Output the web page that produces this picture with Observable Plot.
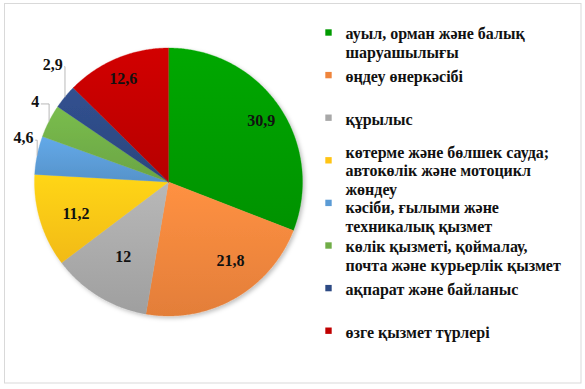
<!DOCTYPE html>
<html>
<head>
<meta charset="utf-8">
<script src="https://cdn.jsdelivr.net/npm/d3@7"></script>
<script src="https://cdn.jsdelivr.net/npm/@observablehq/plot@0.6"></script>
<style>
  html, body { margin: 0; padding: 0; background: #fff; }
  svg { display: block; }
</style>
</head>
<body>
<div id="chart"></div>
<script>
// ---- data ----
const categories = [
  "ауыл, орман және балық\nшаруашылығы",
  "өңдеу өнеркәсібі",
  "құрылыс",
  "көтерме және бөлшек сауда;\nавтокөлік және мотоцикл\nжөндеу",
  "кәсіби, ғылыми және\nтехникалық қызмет",
  "көлік қызметі, қоймалау,\nпочта және курьерлік қызмет",
  "ақпарат және байланыс",
  "өзге қызмет түрлері"
];
const values = [30.9, 21.8, 12, 11.2, 4.6, 4, 2.9, 12.6];
const valueLabels = ["30,9", "21,8", "12", "11,2", "4,6", "4", "2,9", "12,6"];
const colors = ["#009A00", "#EF853C", "#A8A8A8", "#FFC414", "#5B9BD5", "#70AD47", "#2D4A84", "#C00000"];

// ---- layout (label placement, like the "best fit" of the original) ----
const labelRadius = [0.83, 0.75, 0.65, 0.73, 1.13, 1.16, 1.23, 0.84]; // fraction of pie radius
const labelAngleShift = [1, -8.5, 0, -2, 5.3, 4, 6, -1];               // degrees
const W = 585, H = 389;
const cx = 168, cy = 181.5, R = 134;
const font = "Liberation Serif";
const total = d3.sum(values);
const toRad = Math.PI / 180;

const slices = [];
const labels = [];
const leaders = [];
let acc = 0;
values.forEach((v, i) => {
  const a0 = acc / total * 360;
  acc += v;
  const a1 = acc / total * 360;
  const n = Math.max(2, Math.ceil((a1 - a0) / 0.5));
  slices.push({cat: categories[i], x: cx, y: cy, k: 0});
  for (let j = 0; j <= n; j++) {
    const a = (a0 + (a1 - a0) * j / n) * toRad;
    slices.push({cat: categories[i], x: cx + R * Math.sin(a), y: cy - R * Math.cos(a), k: j + 1});
  }
  const mid = (a0 + a1) / 2;
  const la = (mid + labelAngleShift[i]) * toRad;
  const lr = R * labelRadius[i];
  const lx = cx + lr * Math.sin(la), ly = cy - lr * Math.cos(la);
  labels.push({text: valueLabels[i], x: lx, y: ly});
  if (labelRadius[i] > 1) {
    const t = valueLabels[i];
    const halfW = (t.replace(/,/g, "").length * 8 + (t.includes(",") ? 4 : 0)) / 2;
    const ex = cx + R * Math.sin(mid * toRad), ey = cy - R * Math.cos(mid * toRad);
    leaders.push({id: i, x: lx + halfW + 2, y: ly + 2});
    leaders.push({id: i, x: ex, y: ly + 2});
    leaders.push({id: i, x: ex, y: ey});
  }
});

// legend: evenly spaced swatches, text lines flowed so blocks never collide
const legendX = 328, legendY0 = 32, legendStep = 42.6, lineH = 18.6, minGap = 18;
const legendSwatches = categories.map((c, i) => ({cat: c, color: colors[i], y: legendY0 + i * legendStep}));
const legendLines = [];
let prevLast = -Infinity;
legendSwatches.forEach(s => {
  const parts = s.cat.split("\n");
  const center = s.y + (parts.length > 1 ? 11 : 2);
  let first = center - (parts.length - 1) * lineH / 2;
  first = Math.max(first, prevLast + minGap);
  parts.forEach((p, j) => legendLines.push({text: p, y: first + j * lineH}));
  prevLast = first + (parts.length - 1) * lineH;
});

const gradIds = categories.map((c, i) => `url(#slice-grad-${i})`);

const chart = Plot.plot({
  width: W,
  height: H,
  margin: 0,
  x: {domain: [0, W], range: [0, W], axis: null},
  y: {domain: [0, H], range: [0, H], axis: null},
  color: {type: "ordinal", domain: categories, range: gradIds},
  style: {background: "#fff", fontFamily: font},
  marks: [
    Plot.frame({stroke: "#d9d9d9", insetLeft: 4, insetTop: 3, insetRight: 4.5, insetBottom: 6.5}),
    Plot.line(slices, {x: "x", y: "y", z: "cat", fill: "cat", stroke: "cat", strokeWidth: 0.3, curve: "linear-closed", sort: "k"}),
    Plot.line(leaders, {x: "x", y: "y", z: "id", stroke: "#a6a6a6", strokeWidth: 0.8}),
    Plot.text(labels, {x: "x", y: "y", text: "text", fontFamily: font, fontSize: 16, fontWeight: "bold", fill: "#111"}),
    Plot.dot(legendSwatches, {x: legendX, y: "y", symbol: "square", r: 3.6, fill: d => d.color, stroke: null}),
    Plot.text(legendLines, {x: legendX + 17, y: "y", text: "text", textAnchor: "start", fontFamily: font, fontSize: 16, fontWeight: "bold", fill: "#111"})
  ]
});

// gradient definitions for slices
const defs = d3.select(chart).insert("defs", ":first-child");
colors.forEach((c, i) => {
  const g = defs.append("linearGradient").attr("id", `slice-grad-${i}`)
    .attr("x1", 0).attr("y1", 0).attr("x2", 0).attr("y2", 1);
  g.append("stop").attr("offset", "0%").attr("stop-color", d3.color(c).brighter(0.25).formatHex());
  g.append("stop").attr("offset", "100%").attr("stop-color", d3.color(c).darker(0.15).formatHex());
});
const filt = defs.append("filter").attr("id", "pie-shadow").attr("x", "-10%").attr("y", "-10%").attr("width", "130%").attr("height", "130%");
filt.append("feDropShadow").attr("dx", 2).attr("dy", 2).attr("stdDeviation", 2).attr("flood-color", "#000").attr("flood-opacity", 0.25);
d3.select(chart).select("g[aria-label='line']").attr("filter", "url(#pie-shadow)");

document.getElementById("chart").appendChild(chart);
</script>
</body>
</html>
